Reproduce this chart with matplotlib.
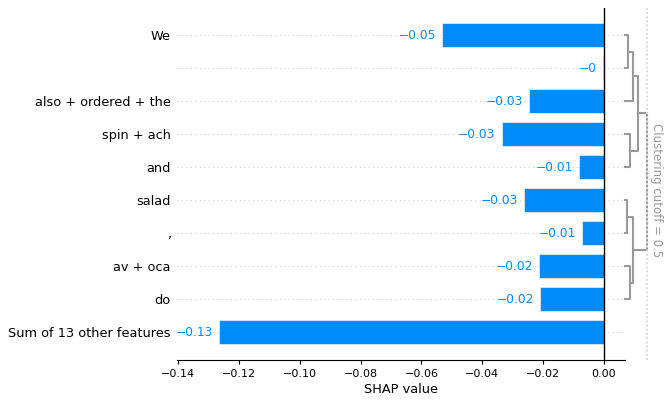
import numpy as np
import matplotlib
matplotlib.use("Agg")
import matplotlib.pyplot as plt

# feature rows, top to bottom
features = ["We", "", "also + ordered + the", "spin + ach", "and", "salad", ",",
            "av + oca", "do", "Sum of 13 other features"]
shap_values = [-0.0532, -0.0004, -0.0246, -0.0336, -0.0082, -0.0263, -0.0073,
               -0.0214, -0.0210, -0.1265]
value_labels = ["\u22120.05", "\u22120", "\u22120.03", "\u22120.03", "\u22120.01",
                "\u22120.03", "\u22120.01", "\u22120.02", "\u22120.02", "\u22120.13"]

# partition tree over the first 9 rows: (child a, child b, distance), new node ids start at 9
merges = [(0, 1, 0.056), (9, 2, 0.17), (3, 4, 0.11), (10, 11, 0.29),
          (5, 6, 0.045), (7, 8, 0.11), (13, 14, 0.17), (12, 15, 0.48)]
clustering_cutoff = 0.5

blue = "#008bfb"

fig = plt.figure(figsize=(6.69, 4.01), dpi=100)
ax = fig.add_axes([0.2646, 0.1022, 0.6697, 0.8778])

y_pos = np.arange(len(features))
for y in y_pos:
    ax.axhline(y, color="#cccccc", lw=0.8, dashes=(1, 3), zorder=-1)

ax.barh(y_pos, shap_values, height=0.7, color=blue, edgecolor=(1, 1, 1, 0.8), linewidth=0.5)
ax.axvline(0, color="#000000", lw=1, zorder=1)

for y, v, lab in zip(y_pos, shap_values, value_labels):
    ax.annotate(lab, (v, y), xytext=(-4.5, 0), textcoords="offset points",
                ha="right", va="center", color=blue, fontsize=8.8)

ax.set_xlim(-0.1403, 0.0069)
ax.set_ylim(9.848, -0.818)
ax.set_yticks(y_pos)
ax.set_yticklabels(features, fontsize=9.3)
ax.tick_params(axis="y", length=0, pad=4.5)
ax.tick_params(axis="x", labelsize=8, length=3, pad=3.5)
ax.set_xticks(np.arange(-0.14, 0.001, 0.02))
ax.set_xlabel("SHAP value", fontsize=9.3, labelpad=2.5)
for s in ["left", "right", "top"]:
    ax.spines[s].set_visible(False)

# dendrogram to the right of the bars
xmin, xmax = ax.get_xlim()
span = 0.1 * (xmax - xmin)
node_y = {i: float(i) for i in range(9)}
node_d = {i: 0.0 for i in range(9)}
for k, (a, b, d) in enumerate(merges):
    xs = xmax + np.array([node_d[a], d, d, node_d[b]]) * span
    ys = [node_y[a], node_y[a], node_y[b], node_y[b]]
    line, = ax.plot(xs, ys, color="#999999", lw=1.5)
    line.set_clip_on(False)
    node_y[9 + k] = (node_y[a] + node_y[b]) / 2
    node_d[9 + k] = d

ct = xmax + clustering_cutoff * span
cl = ax.axvline(ct, color="#dddddd", dashes=(1, 1))
cl.set_clip_on(False)
ax.text(ct + 0.005 * (xmax - xmin), 4.7, "Clustering cutoff = 0.5", ha="left", va="center",
        color="#999999", fontsize=8.5, rotation=-90)

fig.savefig("out.png", dpi=100)
